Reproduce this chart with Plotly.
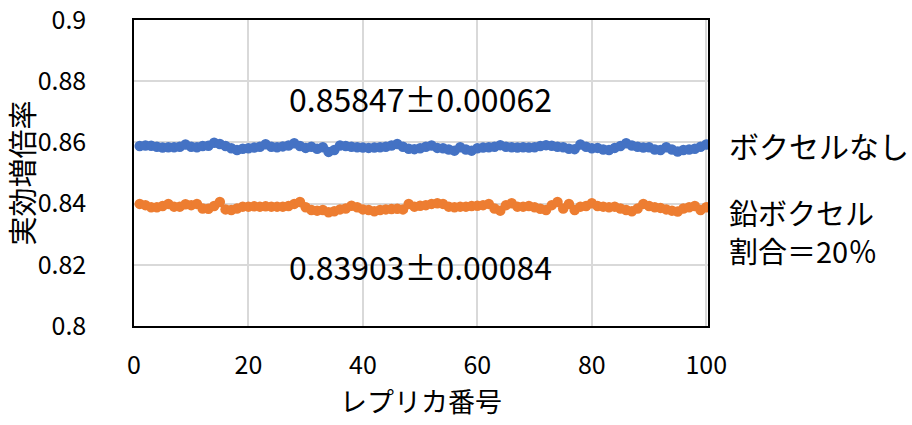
import plotly.graph_objects as go

replica = list(range(1, 101))

no_voxel = [
    0.8588, 0.8590, 0.8589, 0.8586, 0.8583, 0.8584, 0.8584, 0.8586, 0.8593, 0.8586,
    0.8584, 0.8588, 0.8589, 0.8599, 0.8595, 0.8588, 0.8581, 0.8575, 0.8579, 0.8581,
    0.8583, 0.8586, 0.8594, 0.8586, 0.8584, 0.8587, 0.8590, 0.8597, 0.8588, 0.8582,
    0.8586, 0.8579, 0.8584, 0.8569, 0.8575, 0.8590, 0.8588, 0.8586, 0.8584, 0.8583,
    0.8582, 0.8583, 0.8584, 0.8586, 0.8590, 0.8595, 0.8586, 0.8579, 0.8578, 0.8581,
    0.8586, 0.8590, 0.8582, 0.8581, 0.8577, 0.8573, 0.8584, 0.8577, 0.8573, 0.8581,
    0.8583, 0.8584, 0.8586, 0.8591, 0.8586, 0.8584, 0.8583, 0.8584, 0.8583, 0.8584,
    0.8588, 0.8591, 0.8589, 0.8586, 0.8584, 0.8579, 0.8578, 0.8593, 0.8586, 0.8581,
    0.8582, 0.8577, 0.8575, 0.8582, 0.8588, 0.8597, 0.8590, 0.8586, 0.8583, 0.8584,
    0.8577, 0.8575, 0.8584, 0.8577, 0.8570, 0.8575, 0.8577, 0.8579, 0.8586, 0.8593,
]

lead_voxel = [
    0.8399, 0.8395, 0.8388, 0.8388, 0.8392, 0.8399, 0.8390, 0.8390, 0.8398, 0.8395,
    0.8399, 0.8384, 0.8383, 0.8392, 0.8405, 0.8381, 0.8379, 0.8384, 0.8390, 0.8390,
    0.8391, 0.8390, 0.8391, 0.8390, 0.8390, 0.8390, 0.8392, 0.8399, 0.8405, 0.8388,
    0.8379, 0.8377, 0.8379, 0.8372, 0.8375, 0.8381, 0.8384, 0.8393, 0.8388, 0.8381,
    0.8379, 0.8375, 0.8379, 0.8381, 0.8382, 0.8383, 0.8381, 0.8399, 0.8390, 0.8393,
    0.8395, 0.8399, 0.8401, 0.8399, 0.8390, 0.8388, 0.8390, 0.8390, 0.8392, 0.8393,
    0.8395, 0.8399, 0.8384, 0.8377, 0.8395, 0.8401, 0.8390, 0.8390, 0.8392, 0.8388,
    0.8383, 0.8379, 0.8395, 0.8405, 0.8384, 0.8399, 0.8379, 0.8390, 0.8392, 0.8401,
    0.8392, 0.8390, 0.8388, 0.8390, 0.8384, 0.8379, 0.8375, 0.8384, 0.8399, 0.8392,
    0.8388, 0.8386, 0.8381, 0.8377, 0.8374, 0.8384, 0.8388, 0.8392, 0.8379, 0.8388,
]

x_ticks = [0, 20, 40, 60, 80, 100]
y_ticks = [0.8, 0.82, 0.84, 0.86, 0.88, 0.9]
y_tick_labels = ["0.8", "0.82", "0.84", "0.86", "0.88", "0.9"]

series_label_blue = "ボクセルなし"
series_label_orange = ["鉛ボクセル", "割合＝20％"]
stat_labels = ["0.85847±0.00062", "0.83903±0.00084"]

BLUE = "#4472C4"
ORANGE = "#ED7D31"
FONT = "Noto Sans CJK JP"

fig = go.Figure()
fig.add_trace(go.Scatter(
    x=replica, y=no_voxel, mode="lines+markers", name=series_label_blue,
    line=dict(color=BLUE, width=3), marker=dict(color=BLUE, size=10.5),
    showlegend=False,
))
fig.add_trace(go.Scatter(
    x=replica, y=lead_voxel, mode="lines+markers", name="".join(series_label_orange),
    line=dict(color=ORANGE, width=3), marker=dict(color=ORANGE, size=10.5),
    showlegend=False,
))

# statistics annotations
fig.add_annotation(x=50, y=0.8744, xref="x", yref="y", text=stat_labels[0],
                   showarrow=False, font=dict(family=FONT, size=32, color="black"))
fig.add_annotation(x=50, y=0.8196, xref="x", yref="y", text=stat_labels[1],
                   showarrow=False, font=dict(family=FONT, size=32, color="black"))

# series labels on the right
fig.add_annotation(x=1.033, y=0.8591, xref="paper", yref="y", text=series_label_blue,
                   showarrow=False, xanchor="left",
                   font=dict(family=FONT, size=30, color="black"))
fig.add_annotation(x=1.033, y=0.83105, xref="paper", yref="y",
                   text="<br>".join(series_label_orange),
                   showarrow=False, xanchor="left", align="left",
                   font=dict(family=FONT, size=29, color="black"))

fig.update_layout(
    width=912, height=425,
    margin=dict(l=134, r=204, t=20, b=99, autoexpand=False),
    paper_bgcolor="white", plot_bgcolor="white",
    font=dict(family=FONT, size=25, color="black"),
)
fig.update_xaxes(
    range=[0, 100.3], tickvals=x_ticks, ticktext=[str(v) for v in x_ticks],
    showgrid=True, gridcolor="#D9D9D9", gridwidth=1.5,
    showline=True, linecolor="black", linewidth=1.5, mirror=True,
    zeroline=False, ticks="", ticklabelstandoff=16, ticklabeloverflow="allow",
    automargin=False,
    tickfont=dict(family=FONT, size=25),
    title=dict(text="レプリカ番号", font=dict(family=FONT, size=27), standoff=13),
)
fig.update_yaxes(
    range=[0.8, 0.9], tickvals=y_ticks, ticktext=y_tick_labels,
    showgrid=True, gridcolor="#D9D9D9", gridwidth=1.5,
    showline=True, linecolor="black", linewidth=1.5, mirror=True,
    zeroline=False, ticks="", ticklabelstandoff=41, ticklabeloverflow="allow",
    automargin=False,
    tickfont=dict(family=FONT, size=25),
    title=dict(text="実効増倍率", font=dict(family=FONT, size=29), standoff=0),
)

fig.write_html("out.html")
